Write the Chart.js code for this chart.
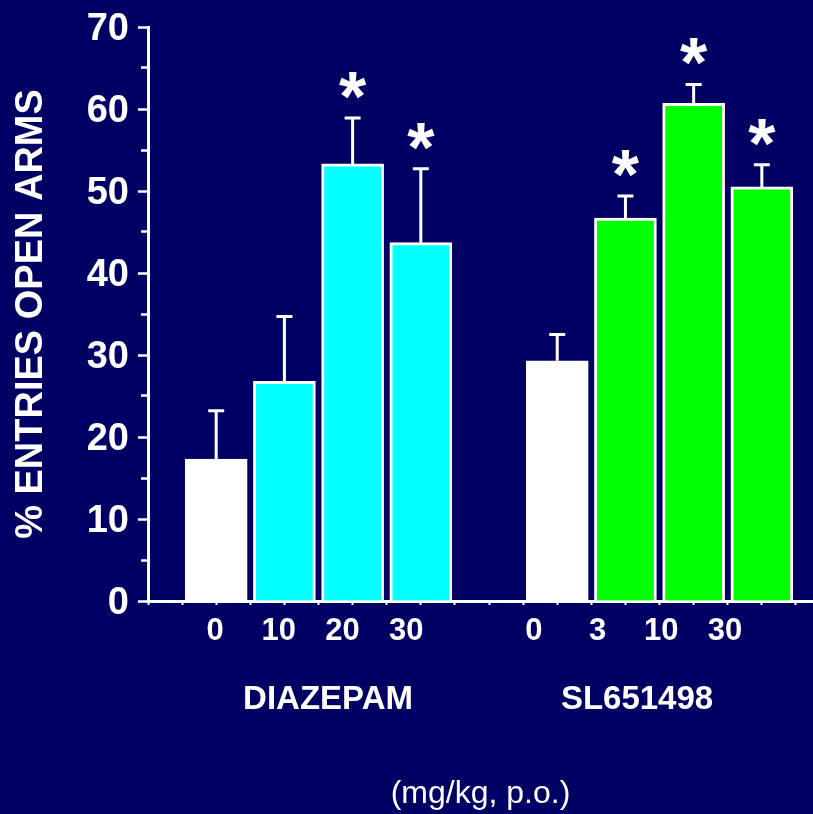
<!DOCTYPE html>
<html>
<head>
<meta charset="utf-8">
<script src="https://cdn.jsdelivr.net/npm/chart.js@4.4.0/dist/chart.umd.min.js"></script>
<style>
  html, body { margin: 0; padding: 0; background: #000064; }
  canvas { display: block; }
</style>
</head>
<body>
<canvas id="chart" width="813" height="814"></canvas>
<script>
// bar slots along the x axis, '' is the empty slot between the two drugs
const doseLabels = ['0', '10', '20', '30', '', '0', '3', '10', '30'];
const groupLabels = ['DIAZEPAM', 'SL651498'];
const meanValues = [17.3, 26.8, 53.3, 43.7, null, 29.3, 46.7, 60.7, 50.5];
const semValues = [5.9, 7.9, 5.6, 9.0, null, 3.2, 2.7, 2.3, 2.7];
const significant = [false, false, true, true, false, false, true, true, true];
const yTicks = [0, 10, 20, 30, 40, 50, 60, 70];

const WHITE = '#ffffff';
const CYAN = '#00ffff';
const GREEN = '#00ff00';
const FONT = '"Liberation Sans", Arial, Helvetica, sans-serif';
Chart.defaults.font.family = FONT;
Chart.defaults.color = WHITE;

// one point per filled slot, slot i sits at x = i + 1
const points = [];
doseLabels.forEach((d, i) => {
  if (meanValues[i] === null) return;
  points.push({ x: i + 1, y: meanValues[i], sem: semValues[i], sig: significant[i], dose: d });
});

function barColor(ctx) {
  const p = ctx.raw;
  if (!p) return WHITE;
  if (p.dose === '0') return WHITE;
  return p.x < 5 ? CYAN : GREEN;
}

// upper error bars with caps, plus the asterisks
const errorBars = {
  id: 'errorBars',
  afterDatasetsDraw(chart) {
    const { ctx } = chart;
    const y = chart.scales.y;
    const meta = chart.getDatasetMeta(0);
    const size = 70;
    ctx.save();
    ctx.strokeStyle = WHITE;
    ctx.fillStyle = WHITE;
    ctx.lineWidth = 3;
    ctx.font = 'bold ' + size + 'px ' + FONT;
    ctx.textAlign = 'center';
    ctx.textBaseline = 'alphabetic';
    meta.data.forEach((bar, i) => {
      const p = points[i];
      const top = y.getPixelForValue(p.y + p.sem);
      ctx.beginPath();
      ctx.moveTo(bar.x, bar.y);
      ctx.lineTo(bar.x, top);
      ctx.moveTo(bar.x - 8, top);
      ctx.lineTo(bar.x + 8, top);
      ctx.stroke();
      if (p.sig) ctx.fillText('*', bar.x, top - 30 + 0.47 * size);
    });
    ctx.restore();
  }
};

new Chart(document.getElementById('chart'), {
  type: 'bar',
  data: {
    datasets: [{
      data: points,
      backgroundColor: barColor,
      borderColor: WHITE,
      borderWidth: 3,
      barThickness: 62
    }]
  },
  options: {
    responsive: false,
    animation: false,
    layout: { padding: { top: 27, left: 0, right: 0, bottom: 0 } },
    plugins: { legend: { display: false }, tooltip: { enabled: false } },
    scales: {
      x: {
        type: 'linear',
        position: 'bottom',
        min: 0,
        max: 9.75,
        offset: false,
        afterBuildTicks: s => {
          const t = [];
          for (let v = 0; v <= 9.5; v += 0.5) t.push({ value: v });
          s.ticks = t;
        },
        afterFit: s => { s.height = 1; },
        grid: {
          offset: false,
          drawOnChartArea: false,
          drawTicks: true,
          tickLength: 4,
          tickWidth: 2,
          tickColor: WHITE
        },
        border: { display: true, color: WHITE, width: 3 },
        ticks: { display: false }
      },
      y: {
        min: 0,
        max: 70,
        afterBuildTicks: s => {
          const t = [];
          yTicks.forEach((v, i) => {
            t.push({ value: v });
            if (i < yTicks.length - 1) t.push({ value: v + 5 });
          });
          s.ticks = t;
        },
        afterFit: s => {
          s.width = 148;
          s.paddingTop = 20;
          s.paddingBottom = 20;
        },
        grid: {
          drawOnChartArea: false,
          drawTicks: true,
          tickLength: 10,
          tickWidth: 2.5,
          tickColor: WHITE,
          tickBorderDash: ctx => (yTicks.includes(ctx.tick.value) ? [] : [0, 3, 100])
        },
        border: { display: true, color: WHITE, width: 3 },
        ticks: {
          autoSkip: false,
          padding: 9,
          labelOffset: 3,
          color: WHITE,
          font: { size: 38, weight: 'bold' },
          callback: v => (yTicks.includes(v) ? String(v) : '')
        },
        title: {
          display: true,
          text: '% ENTRIES OPEN ARMS',
          color: WHITE,
          font: { size: 38, weight: 'bold' },
          padding: { top: 9, bottom: 0 }
        }
      },
      x2: {
        type: 'linear',
        position: 'bottom',
        min: -0.051,
        max: 10.38,
        offset: false,
        afterBuildTicks: s => {
          s.ticks = doseLabels.map((d, i) => ({ value: i + 1 })).filter((t, i) => doseLabels[i] !== '');
        },
        afterFit: s => { s.height = 70; },
        grid: { display: false, offset: false },
        border: { display: false },
        ticks: {
          autoSkip: false,
          maxRotation: 0,
          padding: 3,
          color: WHITE,
          font: { size: 31, weight: 'bold' },
          callback: v => doseLabels[Math.round(v) - 1]
        }
      },
      x3: {
        type: 'linear',
        position: 'bottom',
        min: 0,
        max: 9.75,
        offset: false,
        afterBuildTicks: s => { s.ticks = [{ value: 2.64 }, { value: 7.17 }]; },
        afterFit: s => { s.height = 142; },
        grid: { display: false, offset: false },
        border: { display: false },
        ticks: {
          autoSkip: false,
          maxRotation: 0,
          padding: 0,
          color: WHITE,
          font: { size: 33, weight: 'bold' },
          callback: (v, i) => groupLabels[i]
        },
        title: {
          display: true,
          text: '(mg/kg, p.o.)',
          color: WHITE,
          font: { size: 32, weight: 'normal' },
          padding: { top: 0, bottom: 1 }
        }
      }
    }
  },
  plugins: [errorBars]
});
</script>
</body>
</html>
